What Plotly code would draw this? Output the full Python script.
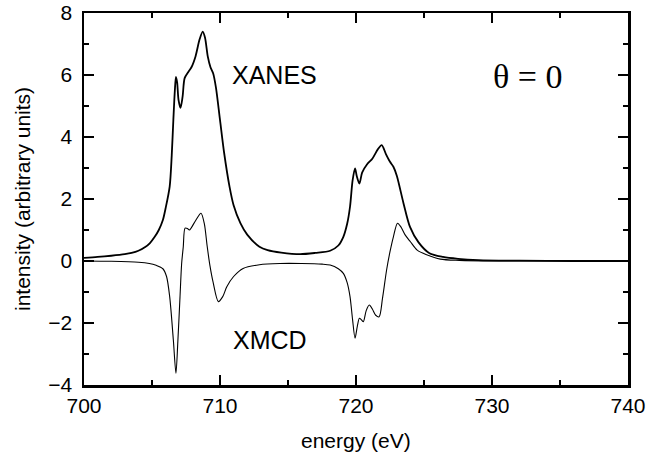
import plotly.graph_objects as go

# XANES curve (energy in eV, intensity)
xanes_e = [700.0, 701.0, 702.0, 703.0, 703.5, 704.0, 704.5, 704.85, 705.2, 705.5,
           705.8, 706.0, 706.3, 706.45, 706.57, 706.68, 706.76, 706.85, 706.95, 707.1,
           707.25, 707.4, 707.67, 707.9, 708.2, 708.5, 708.73, 708.9, 709.1, 709.3,
           709.5, 709.7, 710.0, 710.3, 710.7, 711.0, 711.5, 712.0, 712.9, 713.5,
           714.5, 715.9, 717.0, 718.1, 718.7, 719.07, 719.35, 719.56, 719.75, 719.93,
           720.05, 720.25, 720.45, 720.83, 721.2, 721.6, 721.89, 722.2, 722.5, 722.75,
           723.0, 723.5, 723.97, 724.6, 725.4, 726.4, 727.5, 729.0, 732.0, 736.0, 740.0]
xanes_v = [0.10, 0.13, 0.17, 0.22, 0.26, 0.33, 0.45, 0.58, 0.78, 1.0,
           1.32, 1.7, 2.4, 3.4, 4.55, 5.5, 5.94, 5.75, 5.2, 4.94,
           5.3, 5.9, 6.1, 6.25, 6.6, 7.15, 7.40, 7.2, 6.6, 6.25,
           6.05, 5.6, 4.55, 3.5, 2.4, 1.8, 1.22, 0.85, 0.46, 0.35,
           0.27, 0.22, 0.26, 0.33, 0.5, 0.78, 1.2, 1.75, 2.6, 2.99,
           2.75, 2.5, 2.85, 3.13, 3.3, 3.6, 3.74, 3.45, 3.2, 3.04,
           2.75, 1.85, 1.1, 0.6, 0.25, 0.13, 0.07, 0.03, 0.01, 0.0, 0.0]

# XMCD curve
xmcd_e = [700.0, 702.0, 704.0, 704.8, 705.3, 705.8, 706.07, 706.3, 706.57, 706.76,
          706.9, 707.06, 707.18, 707.3, 707.43, 707.6, 707.75, 708.2, 708.6, 708.85,
          709.05, 709.26, 709.5, 709.88, 710.2, 710.5, 711.0, 711.7, 712.9, 714.4,
          716.0, 717.5, 718.1, 718.7, 719.07, 719.35, 719.56, 719.75, 719.93, 720.1,
          720.25, 720.4, 720.54, 720.75, 720.98, 721.2, 721.45, 721.7, 721.95, 722.25,
          722.5, 722.75, 723.05, 723.3, 723.6, 724.0, 724.5, 725.2, 726.2, 727.6,
          730.0, 735.0, 740.0]
xmcd_v = [0.0, -0.01, -0.04, -0.08, -0.14, -0.25, -0.5, -1.15, -2.55, -3.62,
          -2.6, -1.15, -0.08, 0.46, 1.06, 1.05, 1.0, 1.3, 1.54, 1.2,
          0.5, -0.15, -0.7, -1.31, -1.15, -0.83, -0.5, -0.24, -0.12, -0.08,
          -0.08, -0.1, -0.13, -0.25, -0.4, -0.7, -1.15, -1.9, -2.49, -2.1,
          -1.85, -1.9, -1.96, -1.6, -1.42, -1.55, -1.75, -1.8, -1.2, -0.29,
          0.3, 0.78, 1.22, 1.1, 0.85, 0.62, 0.35, 0.2, 0.06, 0.02,
          0.0, 0.0, 0.0]

x_ticks = [700, 710, 720, 730, 740]
y_ticks = [-4, -2, 0, 2, 4, 6, 8]

fig = go.Figure()
fig.add_trace(go.Scatter(x=xanes_e, y=xanes_v, mode="lines", hoverinfo="skip",
                         line=dict(color="black", width=1.8, shape="spline", smoothing=0.8)))
fig.add_trace(go.Scatter(x=xmcd_e, y=xmcd_v, mode="lines", hoverinfo="skip",
                         line=dict(color="black", width=1.1, shape="spline", smoothing=0.8)))

axis_common = dict(
    showline=True, linecolor="black", linewidth=2.5, mirror="ticks",
    ticks="inside", ticklen=10, tickwidth=2.5, tickcolor="black",
    showgrid=False, zeroline=False, automargin=False,
    ticklabeloverflow="allow",
    tickfont=dict(size=21, color="black"),
)
fig.update_xaxes(range=[700, 740], tickvals=x_ticks, ticklabelstandoff=0,
                 minor=dict(dtick=5, ticks="inside", ticklen=5, tickwidth=2.5, tickcolor="black"),
                 **axis_common)
fig.update_yaxes(range=[-4, 8], tickvals=y_ticks, ticklabelstandoff=5,
                 minor=dict(dtick=1, ticks="inside", ticklen=5, tickwidth=2.5, tickcolor="black"),
                 **axis_common)

# axis titles
fig.add_annotation(xref="paper", yref="paper", x=0.5, y=-0.148, xanchor="center", yanchor="middle",
                   text="energy (eV)", showarrow=False, font=dict(size=21, color="black"))
fig.add_annotation(xref="paper", yref="paper", x=-0.114, y=0.5, xanchor="center", yanchor="middle",
                   textangle=-90, text="intensity (arbitrary units)",
                   showarrow=False, font=dict(size=21, color="black"))

fig.add_annotation(x=714.0, y=6.0, text="XANES", showarrow=False,
                   font=dict(size=25, family="Liberation Sans, Arial", color="black"))
fig.add_annotation(x=713.7, y=-2.55, text="XMCD", showarrow=False,
                   font=dict(size=25, family="Liberation Sans, Arial", color="black"))
fig.add_annotation(x=732.6, y=5.94, text="θ = 0", showarrow=False,
                   font=dict(size=34, family="Liberation Serif, Times New Roman", color="black"))

fig.update_layout(
    width=650, height=459,
    margin=dict(l=84, r=22, t=13, b=74),
    plot_bgcolor="white", paper_bgcolor="white",
    showlegend=False, hovermode=False,
    font=dict(family="Liberation Sans, Arial, Helvetica", color="black"),
)

# remove the browser's default page margin so the figure sits at the window origin
fig.write_html("out.html",
               config={"displayModeBar": False, "staticPlot": True},
               post_script="document.body.style.margin='0';document.body.style.overflow='hidden';")
